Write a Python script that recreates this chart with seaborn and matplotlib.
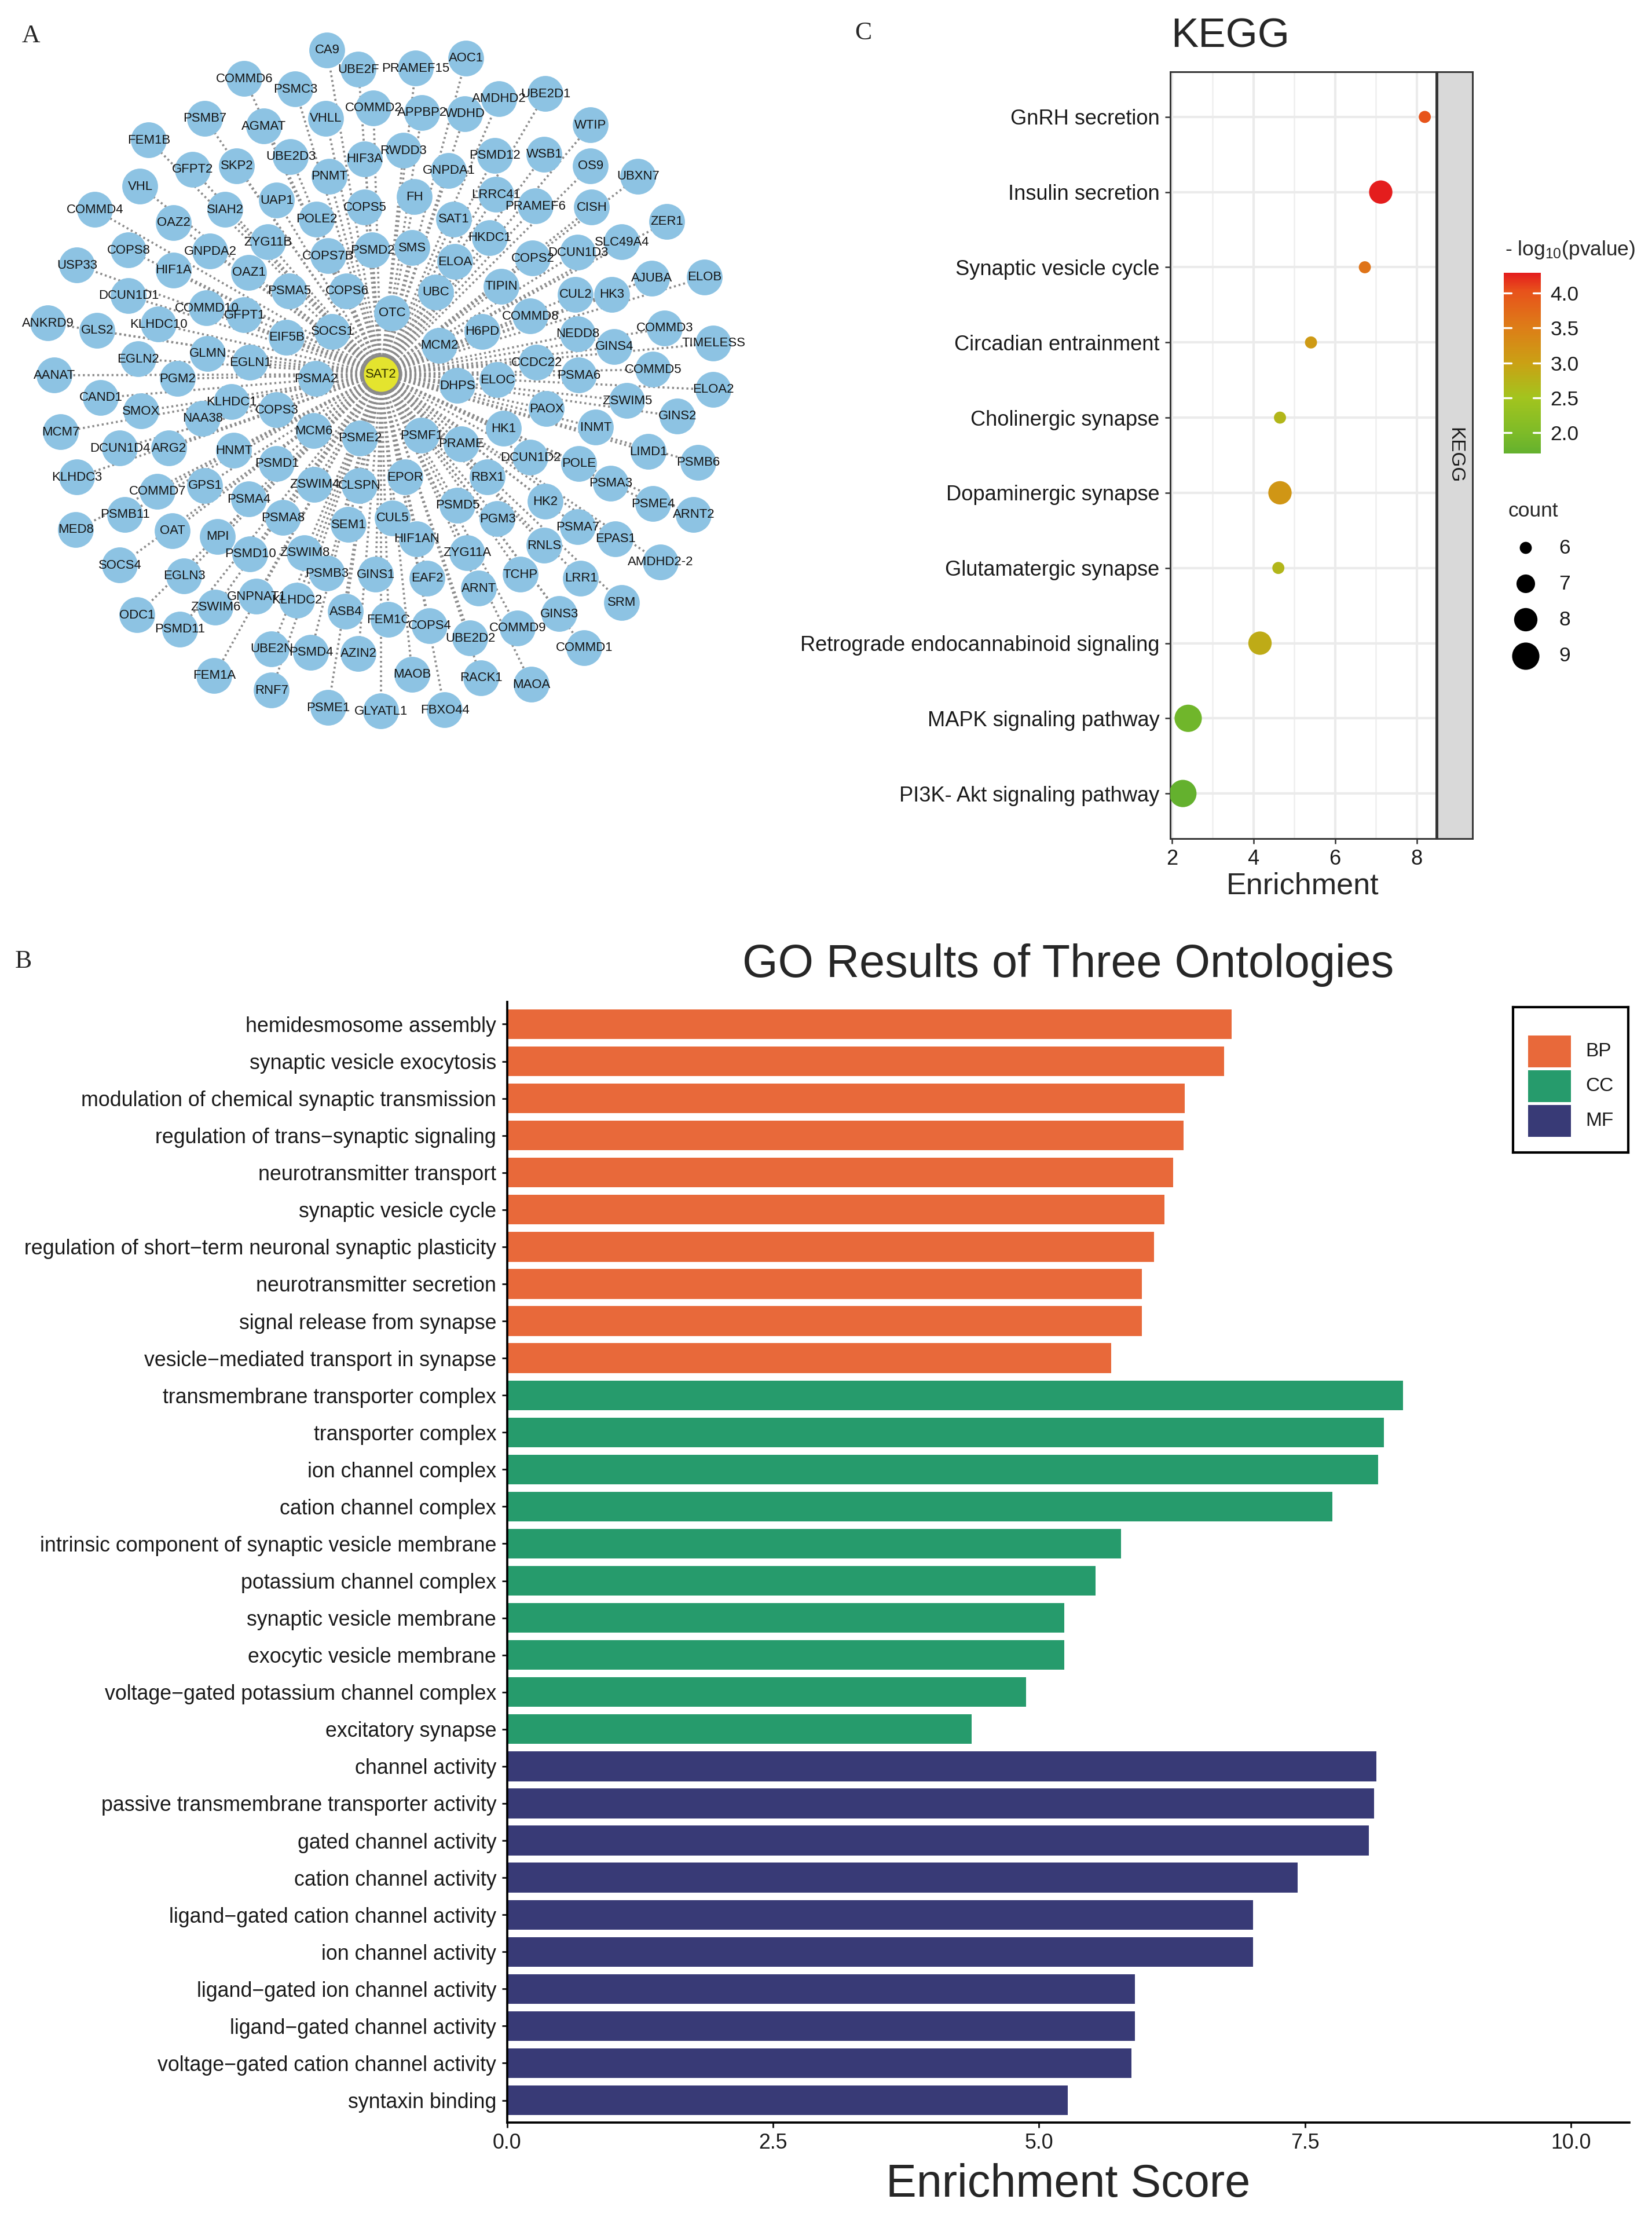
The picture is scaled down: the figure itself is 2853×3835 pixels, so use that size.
import numpy as np
import pandas as pd
import matplotlib
matplotlib.use("Agg")
import matplotlib.pyplot as plt
import seaborn as sns
from matplotlib.colors import LinearSegmentedColormap, Normalize
from matplotlib.cm import ScalarMappable
from matplotlib.patches import Rectangle

W, H = 2853, 3835
DPI = 300

# ---- panel A: SAT2 interaction network (node positions, px) ----
hub_name = "SAT2"
hub_x, hub_y = 658, 646
node_names = [
    "CA9", "UBE2F", "COMMD6", "PSMC3", "VHLL", "COMMD2", "PSMB7", "AGMAT", "FEM1B", "HIF3A",
    "UBE2D3", "PNMT", "SKP2", "GFPT2", "VHL", "UAP1", "COPS5", "COMMD4", "OAZ2", "SIAH2",
    "POLE2", "ZYG11B", "GNPDA2", "COPS8", "PSMD2", "COPS7B", "USP33", "HIF1A", "OAZ1", "PSMA5",
    "COPS6", "OTC", "DCUN1D1", "COMMD10", "GFPT1", "ANKRD9", "GLS2", "KLHDC10", "EIF5B", "SOCS1",
    "GLMN", "EGLN1", "EGLN2", "AANAT", "PGM2", "PSMA2",
    "PRAMEF15", "AOC1", "AMDHD2", "UBE2D1", "APPBP2", "WDHD", "WTIP", "RWDD3", "PSMD12", "WSB1",
    "GNPDA1", "OS9", "UBXN7", "FH", "LRRC41", "PRAMEF6", "CISH", "SAT1", "ZER1", "HKDC1",
    "SMS", "SLC49A4", "DCUN1D3", "COPS2", "ELOA", "AJUBA", "ELOB", "TIPIN", "UBC", "CUL2",
    "HK3", "COMMD8", "H6PD", "NEDD8", "COMMD3", "TIMELESS", "GINS4", "MCM2", "CCDC22", "PSMA6",
    "COMMD5",
    "CAND1", "SMOX", "KLHDC1", "COPS3", "NAA38", "MCM7", "MCM6", "PSME2", "DCUN1D4", "ARG2",
    "HNMT", "PSMD1", "KLHDC3", "EPOR", "COMMD7", "GPS1", "ZSWIM4", "CLSPN", "PSMA4", "PSMB11",
    "PSMA8", "SEM1", "CUL5", "MED8", "OAT", "MPI", "PSMD10", "ZSWIM8", "SOCS4", "PSMB3",
    "GINS1", "EGLN3", "GNPNAT1", "KLHDC2", "ZSWIM6", "ASB4", "FEM1C", "ODC1", "PSMD11", "UBE2N",
    "PSMD4", "AZIN2", "FEM1A", "RNF7", "PSME1", "GLYATL1",
    "DHPS", "ELOC", "ELOA2", "ZSWIM5", "PAOX", "GINS2", "INMT", "HK1", "PSMF1", "PRAME",
    "LIMD1", "DCUN1D2", "POLE", "PSMB6", "RBX1", "PSMA3", "HK2", "PSME4", "PSMD5", "ARNT2",
    "PGM3", "PSMA7", "EPAS1", "HIF1AN", "RNLS", "ZYG11A", "AMDHD2-2", "EAF2", "TCHP", "LRR1",
    "ARNT", "SRM", "GINS3", "COPS4", "COMMD9", "UBE2D2", "COMMD1", "MAOB", "RACK1", "MAOA",
    "FBXO44",
]
node_x = [
    565, 619, 422, 510, 563, 645, 354, 456, 257, 630,
    502, 569, 409, 333, 242, 478, 630, 164, 300, 389,
    547, 463, 363, 222, 643, 567, 133, 300, 430, 500,
    599, 677, 222, 357, 422, 83, 168, 274, 495, 574,
    359, 432, 239, 94, 307, 546,
    718, 805, 862, 942, 729, 803, 1020, 697, 855, 940,
    775, 1020, 1102, 716, 857, 925, 1022, 784, 1152, 846,
    712, 1074, 998, 920, 786, 1126, 1217, 866, 753, 994,
    1057, 916, 833, 998, 1148, 1232, 1061, 759, 927, 1000,
    1128,
    174, 244, 400, 478, 350, 105, 542, 622, 207, 292,
    404, 478, 133, 700, 272, 354, 543, 621, 430, 216,
    489, 602, 678, 131, 298, 376, 432, 526, 207, 565,
    649, 318, 443, 513, 372, 597, 671, 237, 311, 469,
    537, 619, 370, 469, 567, 658,
    790, 859, 1232, 1083, 944, 1170, 1029, 870, 728, 797,
    1120, 916, 1000, 1206, 842, 1055, 942, 1128, 790, 1198,
    859, 998, 1063, 720, 940, 807, 1141, 738, 899, 1003,
    827, 1074, 966, 742, 894, 812, 1009, 712, 831, 918,
    768,
]
node_y = [
    87, 120, 136, 154, 205, 187, 205, 218, 242, 275,
    271, 305, 287, 293, 322, 346, 358, 362, 385, 362,
    379, 418, 434, 432, 432, 442, 458, 467, 471, 503,
    503, 541, 511, 532, 544, 558, 571, 560, 583, 573,
    611, 626, 620, 648, 654, 654,
    118, 101, 171, 162, 195, 197, 216, 260, 269, 267,
    295, 287, 305, 340, 336, 356, 358, 379, 383, 411,
    428, 418, 436, 446, 452, 481, 479, 495, 505, 509,
    509, 546, 573, 577, 567, 593, 599, 597, 626, 648,
    638,
    687, 710, 694, 708, 723, 746, 744, 757, 774, 774,
    778, 801, 824, 824, 849, 839, 837, 839, 862, 889,
    894, 906, 895, 915, 917, 927, 957, 955, 976, 990,
    992, 995, 1030, 1037, 1049, 1056, 1070, 1062, 1087, 1121,
    1127, 1129, 1167, 1192, 1222, 1228,
    666, 656, 673, 692, 706, 719, 738, 740, 752, 767,
    780, 790, 801, 799, 824, 835, 866, 870, 873, 889,
    896, 910, 931, 931, 942, 955, 971, 999, 992, 999,
    1016, 1041, 1060, 1081, 1085, 1102, 1119, 1165, 1171, 1182,
    1226,
]

# ---- panel C: KEGG ----
kegg_terms = [
    "GnRH secretion", "Insulin secretion", "Synaptic vesicle cycle", "Circadian entrainment",
    "Cholinergic synapse", "Dopaminergic synapse", "Glutamatergic synapse",
    "Retrograde endocannabinoid signaling", "MAPK signaling pathway", "PI3K- Akt signaling pathway",
]
kegg_enrich = [8.20, 7.12, 6.73, 5.41, 4.65, 4.65, 4.61, 4.16, 2.40, 2.27]
kegg_logp = [4.00, 4.28, 3.62, 3.10, 2.70, 3.15, 2.70, 2.85, 1.85, 1.71]
kegg_count = [6, 8, 6, 6, 6, 8, 6, 8, 9, 9]
count_breaks = [6, 7, 8, 9]
logp_ticks = [2.0, 2.5, 3.0, 3.5, 4.0]

# ---- panel B: GO ----
go_terms = [
    "hemidesmosome assembly", "synaptic vesicle exocytosis",
    "modulation of chemical synaptic transmission", "regulation of trans\u2212synaptic signaling",
    "neurotransmitter transport", "synaptic vesicle cycle",
    "regulation of short\u2212term neuronal synaptic plasticity", "neurotransmitter secretion",
    "signal release from synapse", "vesicle\u2212mediated transport in synapse",
    "transmembrane transporter complex", "transporter complex", "ion channel complex",
    "cation channel complex", "intrinsic component of synaptic vesicle membrane",
    "potassium channel complex", "synaptic vesicle membrane", "exocytic vesicle membrane",
    "voltage\u2212gated potassium channel complex", "excitatory synapse",
    "channel activity", "passive transmembrane transporter activity", "gated channel activity",
    "cation channel activity", "ligand\u2212gated cation channel activity", "ion channel activity",
    "ligand\u2212gated ion channel activity", "ligand\u2212gated channel activity",
    "voltage\u2212gated cation channel activity", "syntaxin binding",
]
go_score = [
    6.81, 6.74, 6.37, 6.36, 6.26, 6.18, 6.08, 5.97, 5.97, 5.68,
    8.42, 8.24, 8.19, 7.76, 5.77, 5.53, 5.24, 5.24, 4.88, 4.37,
    8.17, 8.15, 8.10, 7.43, 7.01, 7.01, 5.90, 5.90, 5.87, 5.27,
]
go_ont = ["BP"] * 10 + ["CC"] * 10 + ["MF"] * 10
go_levels = ["BP", "CC", "MF"]
go_colors = {"BP": "#E8693A", "CC": "#269B6C", "MF": "#383A76"}

sns.set_theme(style="white")
plt.rcParams["font.family"] = ["Liberation Sans", "DejaVu Sans"]
plt.rcParams["mathtext.fontset"] = "custom"
plt.rcParams["mathtext.rm"] = "Liberation Sans"
plt.rcParams["mathtext.it"] = "Liberation Sans:italic"

fig = plt.figure(figsize=(W / DPI, H / DPI), dpi=DPI)
fig.patch.set_facecolor("white")


def rect(x0, y0, x1, y1):
    return [x0 / W, 1 - y1 / H, (x1 - x0) / W, (y1 - y0) / H]


def ftext(x, y, s, **kw):
    fig.text(x / W, 1 - y / H, s, **kw)


# ================= A: network =================
axA = fig.add_axes(rect(0, 0, 1400, 1300))
net = pd.DataFrame({"gene": node_names, "x": node_x, "y": node_y})
for x, y in zip(net["x"], net["y"]):
    axA.plot([hub_x, x], [hub_y, y], color="#8c8c8c", lw=0.9,
             linestyle=(0, (0.9, 1.3)), dash_capstyle="butt", zorder=1)
sns.scatterplot(data=net, x="x", y="y", s=220, color="#8DC3E3", edgecolor="none",
                linewidth=0, ax=axA, zorder=3, legend=False)
hub = pd.DataFrame({"gene": [hub_name], "x": [hub_x], "y": [hub_y]})
sns.scatterplot(data=hub, x="x", y="y", s=235, color="#E4E42E", edgecolor="#8a8a8a",
                linewidth=0.9, ax=axA, zorder=4, legend=False)
for g, x, y in zip(net["gene"], net["x"], net["y"]):
    axA.text(x, y, g, ha="center", va="center", fontsize=5.3, color="#141414", zorder=5)
axA.text(hub_x, hub_y, hub_name, ha="center", va="center", fontsize=5.3, color="#333300", zorder=5)
axA.set_xlim(0, 1400)
axA.set_ylim(1300, 0)
axA.axis("off")

# ================= C: KEGG dot plot =================
kegg_cmap = LinearSegmentedColormap.from_list(
    "kegg", [(0.0, "#64B12E"), (0.11, "#7DBB28"), (0.31, "#A3C41E"), (0.50, "#CAA114"),
             (0.70, "#DD7D18"), (0.90, "#E8521B"), (1.0, "#E41D1D")])
logp_norm = Normalize(1.705, 4.287)
dot_sizes = (25, 128)

kegg = pd.DataFrame({"term": kegg_terms, "enrich": kegg_enrich,
                     "logp": kegg_logp, "count": kegg_count})
axC = fig.add_axes(rect(2021, 124, 2480, 1448))
axC.set_axisbelow(True)
sns.scatterplot(data=kegg, x="enrich", y="term", hue="logp", size="count",
                palette=kegg_cmap, hue_norm=logp_norm, sizes=dot_sizes, size_norm=(6, 9),
                edgecolor="none", linewidth=0, ax=axC, legend=False, zorder=3)
axC.set_xlim(1.96, 8.475)
axC.set_ylim(len(kegg_terms) - 0.4, -0.6)
axC.set_xticks([2, 4, 6, 8])
axC.set_xticks([3, 5, 7], minor=True)
axC.set_yticks(range(len(kegg_terms)))
axC.set_yticklabels(kegg_terms)
axC.grid(which="major", color="#EBEBEB", lw=1.0)
axC.grid(which="minor", axis="x", color="#EFEFEF", lw=0.6)
axC.tick_params(axis="both", which="major", length=2.2, width=0.6, color="#333333",
                labelsize=8.7, labelcolor="#1a1a1a", pad=2.2, left=True, bottom=True)
axC.tick_params(axis="x", which="minor", length=0)
axC.set_xlabel("")
axC.set_ylabel("")
for sp in axC.spines.values():
    sp.set_color("#333333")
    sp.set_linewidth(0.7)

axS = fig.add_axes(rect(2482, 124, 2543, 1448))
axS.set_facecolor("#D9D9D9")
axS.set_xticks([])
axS.set_yticks([])
for sp in axS.spines.values():
    sp.set_color("#333333")
    sp.set_linewidth(0.7)
axS.text(0.5, 0.5, "KEGG", rotation=-90, ha="center", va="center", fontsize=8,
         color="#1a1a1a", transform=axS.transAxes)

ftext(2125, 64, "KEGG", ha="center", va="center", fontsize=17)
ftext(2250, 1530, "Enrichment", ha="center", va="center", fontsize=12.5)

# colour bar
cax = fig.add_axes(rect(2597, 471, 2661, 783))
sm = ScalarMappable(norm=logp_norm, cmap=kegg_cmap)
cb = fig.colorbar(sm, cax=cax)
cb.outline.set_visible(False)
cb.set_ticks(logp_ticks)
cb.set_ticklabels([f"{t:.1f}" for t in logp_ticks])
cax.tick_params(length=0, pad=4, labelsize=8.5, labelcolor="#1a1a1a")
for t in logp_ticks:
    cax.plot([0, 0.2], [t, t], color="white", lw=0.8, transform=cax.get_yaxis_transform())
    cax.plot([0.8, 1.0], [t, t], color="white", lw=0.8, transform=cax.get_yaxis_transform())
ftext(2599, 432, r"- log$_\mathregular{10}$(pvalue)", ha="left", va="center", fontsize=8.5)

# size legend
ftext(2604, 882, "count", ha="left", va="center", fontsize=8.5)
axCnt = fig.add_axes(rect(2590, 910, 2780, 1170))
cnt_key = pd.DataFrame({"x": [2635] * 4, "y": [946, 1008, 1070, 1133], "count": count_breaks})
sns.scatterplot(data=cnt_key, x="x", y="y", size="count", sizes=dot_sizes, size_norm=(6, 9),
                color="black", edgecolor="none", linewidth=0, ax=axCnt, legend=False)
for c, y in zip(cnt_key["count"], cnt_key["y"]):
    axCnt.text(2692, y, str(c), ha="left", va="center", fontsize=8.5, color="#1a1a1a")
axCnt.set_xlim(2590, 2780)
axCnt.set_ylim(1170, 910)
axCnt.axis("off")

# ================= B: GO bar chart =================
go = pd.DataFrame({"term": go_terms, "score": go_score, "ont": go_ont})
axB = fig.add_axes(rect(875.5, 1730, 2814, 3665))
sns.barplot(data=go, x="score", y="term", hue="ont", hue_order=go_levels, palette=go_colors,
            dodge=False, width=0.8, saturation=1, errorbar=None, legend=False,
            linewidth=0, ax=axB)
axB.set_xlim(0, 10.55)
axB.set_ylim(len(go_terms) - 0.4, -0.6)
axB.set_xticks([0, 2.5, 5, 7.5, 10])
axB.set_xticklabels(["0.0", "2.5", "5.0", "7.5", "10.0"])
axB.set_xlabel("")
axB.set_ylabel("")
axB.tick_params(axis="both", length=2.2, width=0.7, color="#1a1a1a", labelsize=8.6,
                labelcolor="#1a1a1a", pad=2.2, left=True, bottom=True)
sns.despine(ax=axB)
for side in ["left", "bottom"]:
    axB.spines[side].set_color("black")
    axB.spines[side].set_linewidth(0.9)

ftext(1845, 1667, "GO Results of Three Ontologies", ha="center", va="center", fontsize=19)
ftext(1845, 3772, "Enrichment Score", ha="center", va="center", fontsize=19)

# GO legend box
axG = fig.add_axes(rect(2613, 1739, 2812, 1990))
axG.set_xlim(2613, 2812)
axG.set_ylim(1990, 1739)
axG.set_xticks([])
axG.set_yticks([])
for sp in axG.spines.values():
    sp.set_color("black")
    sp.set_linewidth(1.0)
for i, lev in enumerate(go_levels):
    y0 = 1788 + i * 60
    axG.add_patch(Rectangle((2639, y0), 74, 55, color=go_colors[lev], lw=0))
    axG.text(2738, y0 + 28, lev, ha="left", va="center", fontsize=8, color="#1a1a1a")

# panel letters
serif = ["Liberation Serif", "DejaVu Serif"]
ftext(53, 62, "A", ha="center", va="center", fontsize=10.5, family=serif)
ftext(1491, 57, "C", ha="center", va="center", fontsize=10.5, family=serif)
ftext(40, 1660, "B", ha="center", va="center", fontsize=10.5, family=serif)

fig.savefig("out.png", dpi=DPI, facecolor="white")
